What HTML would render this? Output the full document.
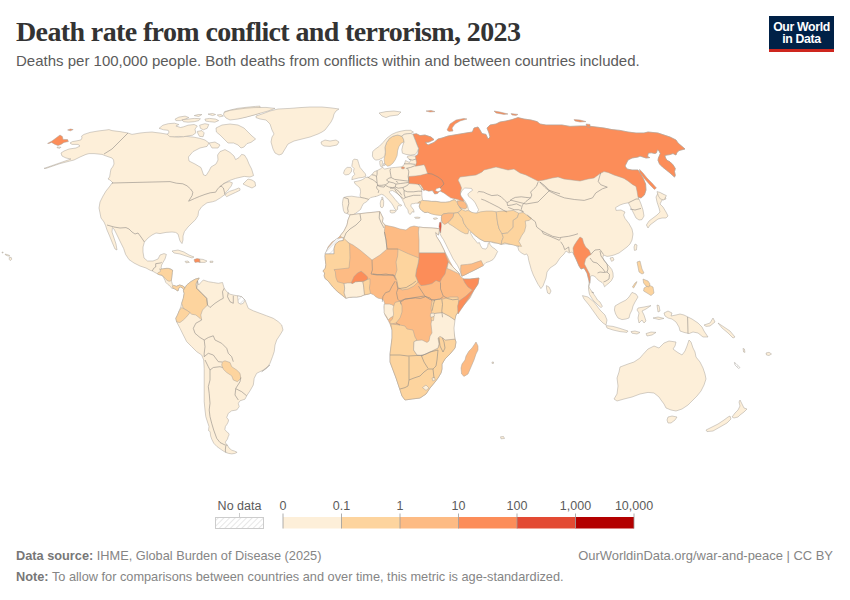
<!DOCTYPE html>
<html><head><meta charset="utf-8">
<style>
html,body{margin:0;padding:0;background:#fff;}
body{width:850px;height:600px;position:relative;overflow:hidden;font-family:"Liberation Sans",Arial,sans-serif;}
.t{position:absolute;white-space:nowrap;}
#title{left:16px;top:15.5px;font-family:"Liberation Serif",serif;font-weight:bold;font-size:28px;color:#333;letter-spacing:-0.62px;}
#sub{left:16px;top:51.8px;font-size:15px;color:#5b5b5b;}
#logo{position:absolute;left:769px;top:16px;width:65px;height:33px;background:#002147;border-bottom:3px solid #ce261e;}
#logo div{position:absolute;width:65px;text-align:center;color:#fff;font-weight:bold;font-size:12.3px;line-height:12px;letter-spacing:-0.35px;}
#map{position:absolute;left:0;top:0;}
#map polygon{stroke:#a8a29a;stroke-width:0.5;stroke-linejoin:round;}
#map polyline{fill:none;stroke:#8f8a84;stroke-width:0.6;stroke-linejoin:round;}
.lg{position:absolute;font-size:12.5px;color:#5b5b5b;}
.foot{position:absolute;left:16px;font-size:12.75px;color:#858585;}
.foot b{color:#777;}
</style></head><body>
<div class="t" id="title">Death rate from conflict and terrorism, 2023</div>
<div class="t" id="sub">Deaths per 100,000 people. Both deaths from conflicts within and between countries included.</div>
<div id="logo"><div style="top:5px">Our World</div><div style="top:16.5px">in Data</div></div>
<svg id="map" width="850" height="600" viewBox="0 0 850 600">
<defs><pattern id="hatch" width="4" height="4" patternUnits="userSpaceOnUse" patternTransform="rotate(45)"><rect width="4" height="4" fill="#fff"/><line x1="0" y1="0" x2="0" y2="4" stroke="#d8d8d8" stroke-width="1.2"/></pattern></defs>
<polygon points="412.9,134.2 416.5,133.8 420.0,135.6 425.0,135.0 431.0,137.0 434.0,139.6 429.0,142.0 425.0,142.4 428.0,145.0 434.0,142.4 438.0,139.0 442.0,138.0 448.0,136.0 454.0,135.0 460.0,134.0 466.0,133.0 472.4,132.0 474.0,128.0 478.0,127.0 480.0,130.0 482.0,133.6 486.0,134.4 488.0,139.0 490.0,137.0 489.0,133.0 487.0,128.0 490.0,125.0 496.0,124.0 500.0,122.0 506.0,121.0 512.0,119.6 518.0,117.6 524.0,119.0 531.0,120.0 537.0,121.6 540.0,124.0 546.0,125.0 554.0,125.0 562.0,125.0 570.0,126.4 580.0,126.0 588.0,126.0 596.0,127.0 604.0,128.0 612.0,129.6 620.0,130.4 628.0,132.0 636.0,133.0 644.0,133.0 648.0,132.0 658.0,133.0 664.0,135.0 670.0,137.0 676.0,140.0 678.0,143.0 685.0,149.0 679.0,150.5 676.8,152.8 676.0,155.0 673.0,153.5 670.0,154.6 667.0,155.0 664.8,155.4 665.5,158.0 667.0,160.3 670.0,161.8 673.0,164.8 675.3,168.5 674.5,171.5 675.3,175.3 674.5,177.1 670.0,173.0 666.3,170.0 662.5,167.0 659.5,164.0 658.0,160.3 658.4,158.0 660.3,153.5 658.8,150.5 657.3,149.8 656.5,152.8 655.0,153.5 651.3,152.8 648.3,153.1 647.5,156.5 649.8,157.6 646.0,158.0 640.0,156.1 638.0,157.0 632.0,158.0 628.0,160.0 625.0,166.0 627.0,169.0 632.0,170.0 638.0,170.0 640.0,173.0 643.0,178.0 645.6,184.0 646.0,190.0 644.4,195.0 641.0,198.0 638.0,197.0 639.0,199.0 641.0,204.0 643.0,210.0 644.0,216.0 642.0,219.6 639.0,220.0 636.0,218.0 634.0,214.0 632.0,210.0 630.0,206.0 628.4,202.8 624.0,203.6 620.0,205.0 615.6,207.6 616.0,210.4 621.0,210.0 625.0,212.0 623.6,215.0 625.0,218.4 629.0,223.6 632.0,229.0 633.0,234.0 632.0,240.0 630.0,244.0 627.0,247.0 623.0,250.0 619.0,253.0 614.0,255.0 610.0,256.0 607.0,256.4 603.5,255.0 602.8,257.5 604.0,260.5 606.5,263.5 609.5,266.5 611.8,269.5 613.0,273.0 613.2,277.0 611.5,280.5 609.0,283.0 606.5,285.0 604.5,286.8 603.5,284.0 602.0,282.5 599.5,281.0 597.5,279.5 596.0,277.5 594.0,276.0 592.0,275.5 590.5,276.5 590.0,279.0 590.0,282.0 589.5,284.0 589.0,286.5 590.0,289.0 592.0,291.5 594.0,294.5 596.0,297.5 597.5,300.0 600.0,302.0 602.4,306.4 601.0,307.6 598.0,305.0 595.0,302.0 593.0,300.0 591.0,297.0 589.5,294.5 589.0,292.0 588.5,289.0 588.5,286.0 589.0,283.2 588.8,280.0 587.0,273.0 584.0,268.0 581.0,269.0 579.0,266.0 576.0,259.0 573.6,254.0 572.0,252.0 569.0,253.0 566.0,251.0 564.0,254.0 560.0,258.0 556.0,264.0 550.0,268.0 547.0,272.0 546.0,278.0 543.0,286.0 540.9,288.6 538.0,284.3 535.3,279.0 533.3,275.0 531.3,269.7 530.0,265.0 528.7,260.3 528.0,256.3 526.7,253.9 524.7,254.7 521.3,253.0 518.7,250.3 518.0,247.7 519.3,245.0 517.6,247.0 515.3,245.0 512.9,244.4 509.4,244.4 505.9,243.8 501.2,244.4 497.6,243.2 494.1,243.0 490.6,241.8 488.2,241.7 484.7,241.6 480.0,239.2 475.3,235.7 470.8,231.5 470.4,232.9 472.9,237.4 475.3,240.3 477.6,243.2 479.4,242.6 480.6,245.8 482.4,248.5 485.9,249.1 487.6,246.8 488.2,243.2 489.4,242.3 490.0,244.4 491.8,246.8 495.3,249.1 497.6,251.5 496.5,253.8 494.7,257.4 492.9,259.7 489.4,261.5 485.9,262.6 482.9,265.6 478.8,267.9 474.1,270.3 469.4,272.6 464.7,275.0 461.8,276.2 460.6,272.6 459.4,269.1 457.6,265.6 455.3,262.1 452.9,258.5 450.6,253.8 448.2,249.1 445.9,244.4 443.5,239.7 441.2,236.2 440.0,233.8 439.9,229.6 440.9,223.9 441.4,219.2 442.0,215.5 439.9,213.8 436.2,212.6 433.4,213.6 430.5,213.1 427.7,212.2 424.9,212.6 422.1,210.8 420.2,208.9 419.2,206.1 420.2,203.2 419.7,202.1 418.8,202.3 417.4,203.2 415.5,203.2 413.6,203.7 411.9,203.7 411.2,204.2 410.8,206.1 412.2,207.9 413.6,209.8 414.1,212.2 412.2,211.7 411.2,213.6 409.8,214.5 408.4,212.6 407.9,209.8 406.5,207.9 405.1,206.1 404.2,203.2 403.2,201.4 402.3,199.5 400.4,196.6 397.6,193.8 394.8,191.9 392.4,190.5 390.1,191.0 389.1,191.9 390.5,193.8 392.9,196.6 395.2,199.5 397.6,202.3 399.5,204.2 401.8,205.3 400.4,206.1 398.5,205.3 397.6,207.0 397.6,209.4 396.2,210.3 394.8,208.9 393.4,206.1 391.5,203.2 389.1,200.4 386.3,197.6 383.9,195.2 381.6,194.3 379.2,195.2 376.9,196.2 375.0,196.6 375.3,196.5 370.6,197.6 368.8,199.4 366.5,201.8 363.5,203.5 361.8,206.5 360.6,209.4 357.6,211.8 355.3,213.5 351.8,215.3 349.4,214.7 347.1,213.5 344.7,212.9 343.5,210.6 342.9,207.1 342.4,203.5 342.9,200.0 343.5,197.6 347.1,196.5 351.8,196.2 357.6,197.1 360.6,197.4 360.0,195.3 360.6,191.8 360.0,188.2 357.6,185.9 355.3,184.1 354.1,181.8 357.1,181.2 360.0,180.6 362.9,179.4 365.3,177.6 368.8,177.1 371.8,174.7 374.1,171.8 377.1,170.6 380.6,168.8 382.4,167.1 381.8,166.8 384.7,169.1 389.4,168.0 395.3,167.4 401.2,166.8 403.5,165.6 404.8,163.0 405.5,160.5 407.6,161.5 409.5,162.5 410.6,160.2 409.0,158.5 407.2,157.5 407.5,156.2 411.0,155.6 415.3,156.0 418.0,154.5 418.6,148.5 417.0,145.0 415.3,140.3 413.9,136.8" fill="#fdefd9"/>
<polygon points="421.8,189.4 423.9,188.9 426.3,189.1 428.6,189.6 431.5,190.1 433.4,191.9 434.3,193.4 437.1,192.9 439.0,191.0 440.9,190.5 442.8,191.9 446.5,193.8 450.3,195.2 453.1,197.1 455.0,198.5 452.2,200.4 449.4,201.8 445.6,202.3 440.9,202.3 436.2,201.4 431.5,201.4 427.7,200.9 423.9,200.9 422.5,199.9 421.8,195.7" fill="#ffffff"/>
<polygon points="464.8,188.0 471.5,188.4 472.6,190.3 469.3,192.5 467.8,194.0 468.5,196.3 473.0,200.0 475.3,203.0 477.5,207.5 478.6,209.8 476.8,213.1 473.8,213.5 470.8,212.0 468.5,209.8 467.4,205.3 464.8,200.8 461.0,196.3 460.3,194.0 461.8,191.0 463.3,189.1" fill="#ffffff"/>
<polygon points="70.0,143.0 72.4,141.6 77.0,140.8 80.8,140.0 82.0,138.0 81.6,136.0 84.0,134.4 90.0,132.4 98.0,131.0 106.0,130.0 109.0,129.6 112.0,130.6 120.0,131.6 128.0,133.0 132.0,134.4 140.0,133.0 146.0,132.4 152.0,132.0 156.0,132.6 160.0,133.0 166.0,134.0 170.0,134.4 170.0,136.4 178.0,137.2 186.0,136.4 194.0,137.2 200.0,138.4 205.0,140.0 209.0,143.0 207.0,146.4 200.0,148.0 193.0,151.6 188.4,157.0 189.0,161.0 195.0,164.0 201.0,167.6 203.6,175.0 206.0,175.6 209.0,171.0 211.0,167.0 216.0,164.0 218.0,160.0 217.6,155.0 220.0,151.6 225.0,149.6 230.0,152.4 234.0,156.0 235.6,159.6 239.0,157.6 241.6,154.4 244.4,155.0 247.0,159.0 249.0,164.0 251.6,169.0 253.6,175.6 250.0,177.0 244.2,176.4 235.6,178.4 229.2,180.6 225.0,182.8 221.8,185.4 219.8,187.0 223.0,183.8 229.2,181.6 232.4,182.8 231.4,185.8 229.2,188.6 227.2,191.2 225.0,193.2 225.0,194.4 220.8,197.6 215.6,200.8 212.4,201.8 207.0,202.8 201.8,206.6 198.6,211.2 198.0,215.6 195.4,219.8 192.0,223.0 188.0,227.0 184.4,231.6 183.0,236.0 183.0,240.0 182.0,243.6 180.0,241.0 179.0,237.6 178.0,234.0 175.6,232.4 172.0,232.0 166.0,232.4 160.0,233.6 156.0,233.0 152.0,235.0 148.0,238.0 144.4,242.0 143.0,247.0 143.0,252.0 144.0,258.0 147.6,261.0 153.0,261.0 158.0,259.0 160.0,255.0 164.0,253.6 166.4,254.4 165.0,259.0 163.0,262.4 161.6,265.0 161.0,268.3 162.3,269.0 166.3,268.3 170.3,268.7 172.7,270.2 172.3,272.3 172.0,275.0 171.7,277.7 171.3,280.7 171.7,281.7 172.3,284.3 173.7,285.7 176.3,286.3 179.7,285.0 182.3,285.7 184.3,287.0 185.7,288.3 185.0,290.0 183.7,289.7 182.3,287.7 180.3,287.0 178.7,288.3 178.0,291.0 176.7,290.3 175.0,289.0 173.0,288.3 171.7,288.3 170.3,286.3 167.7,284.3 165.7,282.3 165.0,280.3 163.7,277.7 162.3,275.7 160.3,275.0 157.7,274.0 152.3,271.0 150.4,270.4 146.0,268.0 140.0,266.0 134.0,263.0 129.0,259.6 125.6,254.4 123.6,248.4 120.4,242.0 117.0,235.0 114.0,229.0 112.4,227.6 112.0,232.0 114.0,238.0 116.0,244.0 117.0,250.0 115.0,249.0 112.0,242.0 109.6,236.0 107.0,230.0 105.6,225.6 104.0,222.0 101.0,218.0 100.0,213.0 99.0,208.0 100.0,202.0 103.0,196.0 106.0,191.0 110.0,186.0 112.0,183.0 113.0,183.0 110.0,180.0 108.0,179.0 109.6,177.0 110.4,172.0 111.0,169.0 112.6,167.0 114.0,164.0 113.6,160.0 112.0,158.0 109.0,157.0 105.0,155.6 102.0,154.4 98.0,154.0 94.0,153.6 89.0,153.6 86.0,154.4 80.0,157.0 74.0,160.0 70.0,161.0 60.0,163.6 46.0,168.4 44.0,168.4 71.0,159.0 66.0,158.0 62.0,156.0 61.0,153.0 64.0,151.0 69.0,149.0 76.0,148.0 80.0,146.0 78.0,144.4 72.0,144.4 70.0,143.0" fill="#fdefd9"/>
<polygon points="216.0,128.0 222.0,125.0 230.0,124.0 238.0,125.0 244.0,128.0 248.0,132.0 252.0,136.0 255.6,139.0 251.0,142.4 247.0,143.6 244.0,147.0 241.0,148.0 238.0,145.0 233.6,143.0 228.0,143.0 224.0,139.0 220.0,135.0 216.4,132.0" fill="#fdefd9"/>
<polygon points="224.8,111.5 230.9,109.9 237.1,108.4 246.2,107.3 255.4,106.4 260.0,106.1 260.0,113.0 255.4,114.5 249.3,116.1 243.2,117.6 237.1,118.4 230.9,116.8 226.4,115.3 224.1,113.5" fill="#fdefd9"/>
<polygon points="224.0,112.4 230.0,110.4 238.0,109.2 246.0,108.2 254.0,107.6 266.0,107.4 275.0,108.4 268.0,111.0 261.0,113.0 254.0,115.0 246.0,117.2 238.0,119.0 230.0,120.0 226.0,118.0 223.6,115.0" fill="#fdefd9"/>
<polygon points="159.1,128.3 162.9,125.2 168.2,123.7 174.4,123.2 178.9,124.5 175.9,126.0 180.5,127.5 183.5,126.8 188.1,125.2 194.2,124.5 197.3,126.0 195.0,129.1 195.8,132.9 192.7,135.2 188.1,135.9 183.5,136.7 178.9,136.4 174.4,136.7 169.8,136.7 167.5,134.4 169.0,132.1 168.2,130.3 163.6,129.8" fill="#fdefd9"/>
<polygon points="175.1,119.1 178.9,117.1 185.1,116.1 188.9,117.6 185.1,119.1 180.5,120.6 175.9,120.6" fill="#fdefd9"/>
<polygon points="182.0,119.9 188.1,119.1 194.2,118.4 200.4,118.7 198.8,120.6 194.2,121.7 188.1,122.2 183.5,121.7" fill="#fdefd9"/>
<polygon points="194.2,115.6 198.1,114.5 201.9,114.5 198.8,116.5" fill="#fdefd9"/>
<polygon points="199.6,125.2 204.9,123.7 208.8,124.5 207.2,128.3 203.4,129.8 200.4,128.3" fill="#fdefd9"/>
<polygon points="204.9,119.1 209.5,118.4 215.6,119.1 218.7,120.6 214.9,122.2 209.5,121.7 205.7,121.1" fill="#fdefd9"/>
<polygon points="208.0,114.1 212.6,113.5 215.6,114.5 212.6,115.6" fill="#fdefd9"/>
<polygon points="217.2,115.0 221.0,114.5 223.3,116.1 219.5,116.8" fill="#fdefd9"/>
<polygon points="197.3,131.4 201.9,130.6 204.2,132.9 203.1,136.7 199.6,136.4 198.1,134.0" fill="#fdefd9"/>
<polygon points="209.0,143.0 215.0,142.0 220.0,145.0 218.0,148.0 212.0,148.0" fill="#fdefd9"/>
<polygon points="256.0,116.0 262.0,114.0 270.0,111.0 278.0,109.0 290.0,108.4 300.0,107.6 310.0,107.0 322.0,107.0 332.0,108.0 339.0,109.0 336.0,111.0 334.0,114.0 333.0,118.0 331.0,122.0 328.0,126.0 325.0,130.0 322.0,132.0 318.0,134.0 310.0,137.0 302.0,139.0 294.0,141.0 288.0,144.0 285.0,149.0 282.0,154.0 279.0,155.0 275.0,153.0 273.0,149.0 271.0,142.0 272.0,137.0 274.0,134.0 272.0,130.0 270.0,124.0 266.0,120.0 260.0,119.0 256.0,117.6" fill="#fdefd9"/>
<polygon points="321.0,142.0 325.0,140.0 330.0,141.0 336.0,140.0 339.0,142.0 337.0,145.0 330.0,146.4 324.0,146.0 321.6,144.4" fill="#fdefd9"/>
<polygon points="243.0,184.0 248.0,179.0 252.0,180.0 255.0,182.0 255.6,186.0 252.0,188.0 247.0,186.0" fill="#fdefd9"/>
<polygon points="172.0,251.0 178.0,250.0 184.0,252.0 189.0,255.0 194.0,257.0 192.0,258.0 186.0,256.0 180.0,254.0 174.0,253.0" fill="#fdefd9"/>
<polygon points="199.4,259.0 203.0,259.4 207.0,261.0 205.0,262.4 200.0,262.4" fill="#fdefd9"/>
<polygon points="194.0,259.6 197.0,258.6 199.6,259.0 200.0,262.4 198.0,262.0 195.0,262.4 194.4,261.0" fill="#fc8d59"/>
<polygon points="185.0,261.4 188.0,261.0 189.4,262.4 186.0,262.8" fill="#fdefd9"/>
<polygon points="210.0,261.2 213.0,261.2 212.8,262.4 210.0,262.4" fill="#fdefd9"/>
<polygon points="157.3,273.7 158.3,272.5 160.3,271.7 160.3,269.3 163.7,268.7 168.3,268.3 172.3,270.0 172.7,271.0 172.3,272.3 172.0,275.0 171.7,277.7 171.3,280.7 169.0,281.3 167.0,280.3 165.7,279.0 164.3,277.7 163.0,276.0 161.3,275.0 159.0,274.7" fill="#fdd49e"/>
<polygon points="172.3,285.7 173.7,285.3 176.3,286.3 179.7,285.0 182.3,285.7 184.3,287.0 185.3,288.7 185.0,290.0 183.7,289.7 182.3,287.7 180.3,287.0 178.7,288.3 178.0,291.0 176.7,290.3 175.0,289.0 173.0,288.3" fill="#fdd49e"/>
<polygon points="9.2,257.6 11.2,257.4 11.8,259.2 10.2,260.6 9.3,259.5" fill="#fdefd9"/>
<polygon points="5.2,254.0 7.2,254.6 9.5,255.4 9.8,256.2 7.5,255.8 5.5,255.0" fill="#fdefd9"/>
<polygon points="2.0,252.0 3.2,252.2 3.0,253.0 2.0,252.8" fill="#fdefd9"/>
<polygon points="225.3,195.4 226.1,193.5 229.3,191.4 234.6,189.7 238.8,188.0 240.1,188.8 239.9,190.3 235.6,192.4 230.9,194.6 226.6,196.7" fill="#fdefd9"/>
<polygon points="412.9,134.2 416.5,133.8 420.0,135.6 425.0,135.0 431.0,137.0 434.0,139.6 429.0,142.0 425.0,142.4 428.0,145.0 434.0,142.4 438.0,139.0 442.0,138.0 448.0,136.0 454.0,135.0 460.0,134.0 466.0,133.0 472.4,132.0 474.0,128.0 478.0,127.0 480.0,130.0 482.0,133.6 486.0,134.4 488.0,139.0 490.0,137.0 489.0,133.0 487.0,128.0 490.0,125.0 496.0,124.0 500.0,122.0 506.0,121.0 512.0,119.6 518.0,117.6 524.0,119.0 531.0,120.0 537.0,121.6 540.0,124.0 546.0,125.0 554.0,125.0 562.0,125.0 570.0,126.4 580.0,126.0 588.0,126.0 596.0,127.0 604.0,128.0 612.0,129.6 620.0,130.4 628.0,132.0 636.0,133.0 644.0,133.0 648.0,132.0 658.0,133.0 664.0,135.0 670.0,137.0 676.0,140.0 678.0,143.0 685.0,149.0 679.0,150.5 676.8,152.8 676.0,155.0 673.0,153.5 670.0,154.6 667.0,155.0 664.8,155.4 665.5,158.0 667.0,160.3 670.0,161.8 673.0,164.8 675.3,168.5 674.5,171.5 675.3,175.3 674.5,177.1 670.0,173.0 666.3,170.0 662.5,167.0 659.5,164.0 658.0,160.3 658.4,158.0 660.3,153.5 658.8,150.5 657.3,149.8 656.5,152.8 655.0,153.5 651.3,152.8 648.3,153.1 647.5,156.5 649.8,157.6 646.0,158.0 640.0,156.1 638.0,157.0 632.0,158.0 628.0,160.0 625.0,166.0 627.0,169.0 632.0,170.0 638.0,170.0 640.0,173.0 643.0,178.0 645.6,184.0 646.0,190.0 644.4,195.0 641.0,198.0 638.0,197.0 637.0,191.0 636.0,186.4 632.4,184.4 628.0,181.0 624.0,178.4 620.0,177.0 614.0,175.0 608.0,172.4 604.0,171.6 600.0,173.6 594.0,178.0 588.0,179.0 580.0,181.0 572.0,180.0 564.0,179.0 558.0,177.0 552.0,178.0 544.0,180.0 538.0,181.0 532.0,178.0 526.0,175.0 520.0,173.0 514.0,169.0 508.0,170.0 500.0,168.0 496.0,167.0 492.0,168.0 484.0,170.0 482.0,172.0 476.0,175.0 468.0,176.0 460.0,177.0 458.0,180.0 460.0,184.0 461.5,188.0 460.5,192.0 460.3,194.5 461.2,196.5 463.0,199.0 464.0,201.5 461.0,200.8 457.3,199.3 453.5,198.5 450.5,197.8 449.0,196.6 448.0,196.0 444.0,193.0 440.0,191.0 439.4,191.2 437.6,193.5 434.7,194.1 433.5,191.8 432.4,190.6 428.8,191.2 425.3,190.0 423.5,190.6 423.0,188.2 420.6,184.7 415.9,184.1 408.8,183.5 408.8,176.5 415.9,175.9 420.6,175.3 425.3,174.1 427.6,173.5 426.5,170.6 425.3,167.0 424.1,164.7 415.3,166.2 416.5,162.6 415.9,159.1 415.3,156.2 418.0,154.5 418.6,148.5 417.0,145.0 415.3,140.3 413.9,136.8" fill="#fc8d59"/>
<polygon points="47.6,143.4 52.0,141.0 56.0,138.0 60.0,135.0 62.4,136.6 63.0,139.4 67.6,139.6 68.4,141.6 64.0,142.4 61.0,144.4 58.0,145.6 55.0,144.4 51.6,142.4 49.0,143.4" fill="#fc8d59"/>
<polygon points="67.6,130.0 70.4,129.0 73.2,129.6 70.4,130.8" fill="#fc8d59"/>
<polygon points="57.0,147.0 61.0,147.2 60.0,148.2 57.4,148.0" fill="#fdefd9"/>
<polygon points="184.3,289.0 186.7,285.0 190.8,281.7 195.0,279.2 199.2,278.0 197.5,280.8 198.7,285.0 200.8,282.5 203.3,280.0 208.3,281.7 213.3,282.5 218.3,283.3 222.5,282.5 224.2,288.3 226.7,291.7 230.0,294.2 233.3,295.0 237.5,295.8 241.7,296.7 245.0,300.0 246.7,304.2 248.3,308.3 253.3,310.8 260.0,313.3 266.7,315.8 273.3,318.3 278.3,321.7 281.7,325.0 283.0,330.0 280.0,335.0 276.7,340.0 275.0,345.0 274.2,351.7 272.5,356.7 270.0,363.3 266.7,368.3 261.7,371.7 270.0,365.0 263.3,370.0 256.7,373.3 254.2,378.3 253.3,385.0 250.0,390.8 246.7,395.8 245.0,399.2 240.0,400.8 238.3,403.3 239.2,406.7 236.7,410.0 231.7,410.8 228.3,413.3 226.7,417.5 228.6,420.0 228.1,422.1 227.0,424.2 225.4,426.4 224.9,429.5 226.5,431.6 228.6,433.2 229.1,434.8 228.1,436.9 227.5,439.1 225.9,441.2 225.4,442.8 227.5,445.4 229.1,448.1 231.8,450.2 234.9,451.2 237.1,452.3 234.9,453.4 231.8,453.9 228.6,453.4 225.4,452.3 221.2,449.6 216.9,446.5 213.8,443.3 211.7,439.1 210.6,435.9 210.1,431.6 208.5,430.6 209.0,426.4 207.9,423.2 205.8,416.7 205.0,410.0 204.2,401.7 204.2,393.3 204.2,385.0 204.2,376.7 204.2,368.3 203.7,360.0 201.7,355.0 196.7,351.7 191.7,346.7 186.7,341.7 183.3,335.0 180.0,328.3 176.7,322.0 175.8,318.3 177.5,315.0 179.2,310.8 180.8,306.7 181.7,303.3 183.3,298.3 184.2,293.3 183.3,290.8" fill="#fdefd9"/>
<polygon points="184.3,289.0 186.7,285.0 190.8,281.7 195.0,279.2 199.2,278.0 197.5,280.8 195.8,284.2 196.7,288.3 201.7,293.3 206.7,298.3 207.5,305.0 205.0,307.5 202.5,310.0 200.8,315.0 201.7,320.0 200.0,318.3 195.8,315.0 191.7,314.2 187.5,310.8 183.3,308.3 181.7,303.3 183.3,298.3 184.2,293.3 183.3,290.8" fill="#fdd49e"/>
<polygon points="181.7,307.5 187.5,310.8 190.0,312.5 186.7,316.7 183.3,320.0 180.0,322.5 176.7,322.0 175.8,318.3 177.5,315.0 179.2,310.8" fill="#fdd49e"/>
<polygon points="222.5,361.7 225.0,360.8 230.0,362.5 231.7,366.7 236.7,370.0 240.0,373.3 240.8,378.3 237.5,381.7 233.3,380.0 231.7,375.8 226.7,372.5 223.3,369.2 221.7,365.0" fill="#fdd49e"/>
<polygon points="237.5,295.8 241.7,296.7 245.0,300.0 243.3,303.3 240.8,304.2 238.3,303.0" fill="url(#hatch)"/>
<polygon points="350.0,215.0 357.0,214.0 366.0,213.0 376.0,212.0 380.0,211.6 381.0,214.0 383.0,218.0 382.4,222.0 385.0,225.0 389.0,226.0 394.0,227.0 400.0,229.0 406.0,230.0 410.0,227.0 414.0,226.0 419.0,227.0 424.0,227.6 432.0,228.0 437.0,228.4 439.6,229.0 438.4,235.0 435.6,232.4 436.4,236.4 440.0,242.0 444.0,250.0 447.0,256.0 450.0,262.0 453.0,267.0 458.0,272.0 461.0,277.0 464.0,279.0 470.0,279.0 479.0,278.0 478.0,284.0 474.0,290.0 470.0,298.0 464.0,305.0 459.0,311.0 456.0,315.0 453.6,322.0 453.0,328.0 454.0,334.0 455.0,339.0 456.0,342.0 455.0,348.0 450.0,354.0 445.0,359.0 442.0,364.0 442.0,369.0 441.0,373.0 438.0,378.0 435.0,382.0 430.0,388.0 426.0,394.0 420.0,398.0 412.0,399.0 405.0,400.0 402.0,396.0 400.0,390.0 398.0,384.0 396.0,378.0 393.0,370.0 390.0,362.0 390.0,354.0 391.0,346.0 392.0,338.0 392.0,330.0 390.0,324.0 388.0,320.0 385.0,315.0 384.1,307.1 384.7,303.5 383.5,300.0 381.2,298.8 378.2,298.2 375.3,296.5 373.5,294.7 370.6,293.5 367.1,294.4 363.5,295.3 360.6,296.5 356.5,297.1 352.9,297.1 349.4,297.4 345.9,298.2 342.9,295.9 340.0,293.5 337.6,291.8 335.3,289.4 332.9,287.1 330.6,284.1 328.8,281.8 327.1,280.0 325.3,278.8 324.1,275.9 324.7,272.9 322.9,271.2 325.3,268.2 325.9,264.7 325.3,260.0 325.0,256.0 326.0,253.0 328.0,247.0 332.0,242.0 337.0,239.0 340.0,236.0 344.0,231.0 347.0,225.0 348.0,220.0" fill="#fdbb84"/>
<polygon points="350.0,215.0 357.0,214.0 366.0,213.0 376.0,212.0 380.0,211.6 381.0,214.0 383.0,218.0 382.4,222.0 385.0,225.0 384.4,232.0 386.0,240.0 387.0,249.0 380.0,255.0 372.0,260.0 366.0,255.0 360.0,250.0 353.0,245.0 349.0,243.0 344.0,239.6 343.6,238.4 340.0,236.0 344.0,231.0 347.0,225.0 348.0,220.0" fill="#fdefd9"/>
<polygon points="324.9,253.9 327.8,248.2 332.7,242.6 336.9,238.4 343.3,237.6 343.3,240.5 339.0,241.2 335.5,244.0 334.1,248.2 334.1,253.9" fill="url(#hatch)"/>
<polygon points="419.0,227.0 424.0,227.6 432.0,228.0 437.0,228.4 439.6,229.0 438.4,235.0 435.6,232.4 436.4,236.4 440.0,242.0 444.0,250.0 445.0,253.0 432.0,253.0 419.0,253.0 419.0,240.0 418.4,232.0" fill="#fdefd9"/>
<polygon points="419.0,253.0 445.0,253.0 446.4,257.0 448.4,262.0 446.4,268.0 445.0,274.0 442.0,278.0 440.0,282.0 436.0,280.4 432.0,283.6 426.0,285.0 421.0,285.6 418.0,282.0 415.6,276.0 416.4,270.0 418.0,264.0 419.0,258.0" fill="#fc8d59"/>
<polygon points="448.4,262.0 453.0,267.0 458.0,272.0 460.0,274.4 456.0,272.4 451.0,270.0 447.0,268.4" fill="#fdefd9"/>
<polygon points="398.0,249.0 408.0,253.6 419.0,258.0 418.0,264.0 416.4,270.0 415.6,276.0 418.0,282.0 414.0,286.0 408.0,289.0 402.0,290.0 398.0,287.0 397.0,281.0 395.0,276.0 397.0,270.0 396.0,262.0 397.6,256.0" fill="#fdd49e"/>
<polygon points="325.0,254.0 334.1,253.9 334.1,248.2 335.5,244.0 339.0,241.2 343.3,240.5 343.3,237.6 349.6,244.0 350.0,258.0 349.0,268.0 340.0,269.0 334.0,269.6 335.3,271.8 335.9,277.6 337.6,281.8 344.1,283.5 344.7,288.2 344.1,292.9 345.9,298.2 342.9,295.9 340.0,293.5 337.6,291.8 335.3,289.4 332.9,287.1 330.6,284.1 328.8,281.8 327.1,280.0 325.3,278.8 324.1,275.9 324.7,272.9 322.9,271.2 325.3,268.2 325.9,264.7 325.3,260.0 325.0,256.0" fill="#fdd49e"/>
<polygon points="344.1,283.5 347.6,282.9 351.2,282.9 352.4,283.5 355.3,281.8 360.0,281.4 362.9,281.8 363.8,287.1 364.5,294.7 360.6,296.5 356.5,297.1 352.9,297.1 349.4,297.4 345.9,298.2 344.1,292.9 344.7,288.2" fill="#fdefd9"/>
<polygon points="351.2,282.9 354.1,276.5 357.6,272.9 361.2,271.2 364.7,274.1 367.6,277.1 367.6,279.4 364.1,281.2 360.0,281.4 355.3,281.8 352.4,283.5" fill="#fc8d59"/>
<polygon points="362.9,281.8 364.1,281.2 367.6,279.4 370.0,278.8 370.0,283.5 369.4,288.2 370.6,293.5 367.1,294.4 364.5,294.7 363.8,287.1" fill="#fdd49e"/>
<polygon points="384.1,304.1 389.4,304.1 391.8,304.7 395.3,307.1 395.3,315.3 390.6,317.6 388.2,320.0 387.1,317.6 384.1,312.9 384.1,307.1" fill="#fdefd9"/>
<polygon points="395.0,302.4 400.0,301.0 402.0,306.0 402.0,312.0 400.0,318.0 396.0,323.0 391.0,324.0 389.6,322.0 392.4,319.0 393.6,314.0 393.0,309.0 394.0,305.0" fill="#fdd49e"/>
<polygon points="391.0,324.0 400.0,325.0 405.0,326.0 407.0,329.0 413.0,330.0 415.0,337.0 417.0,340.4 414.0,341.6 413.6,350.0 417.0,355.0 421.0,355.6 426.0,354.0 430.0,352.0 434.0,350.0 438.0,348.0 439.0,344.0 438.0,338.0 440.0,336.4 443.0,338.0 445.0,340.0 450.0,339.6 455.0,339.0 456.0,342.0 455.0,348.0 450.0,354.0 445.0,359.0 442.0,364.0 442.0,369.0 441.0,373.0 438.0,378.0 435.0,382.0 430.0,388.0 426.0,394.0 420.0,398.0 412.0,399.0 405.0,400.0 402.0,396.0 400.0,390.0 398.0,384.0 396.0,378.0 393.0,370.0 390.0,362.0 390.0,354.0 391.0,346.0 392.0,338.0 392.0,330.0 391.0,325.0" fill="#fdd49e"/>
<polygon points="431.0,314.0 437.0,313.0 442.4,312.6 449.0,316.0 455.0,320.0 454.0,328.0 454.4,334.0 455.0,339.0 450.0,339.6 445.0,340.0 443.0,338.0 440.0,336.4 438.0,338.0 439.0,344.0 438.0,348.0 434.0,350.0 430.0,352.0 426.0,354.0 421.0,355.6 417.0,355.0 413.6,350.0 414.0,341.6 417.0,340.4 422.0,340.0 427.0,342.4 429.0,341.0 430.0,336.0 432.0,333.0 431.0,324.0 432.0,318.0" fill="#fdefd9"/>
<polygon points="432.0,301.0 438.0,299.0 443.0,299.0 450.0,297.0 458.0,297.0 459.0,304.0 458.4,310.0 459.0,311.0 456.0,315.0 455.0,320.0 449.0,316.0 442.4,312.6 437.0,313.0 432.0,314.0 431.0,308.0" fill="#fdd49e"/>
<polygon points="463.0,279.0 470.0,279.0 479.0,278.0 478.0,284.0 474.0,290.0 470.0,296.0 466.0,302.0 462.0,308.0 458.0,314.0 457.6,306.0 459.0,301.0 466.0,296.0 472.4,290.0 468.0,287.0 465.0,283.0" fill="#fc8d59"/>
<polygon points="476.0,342.0 478.0,346.0 478.0,350.0 476.0,354.0 474.0,360.0 471.0,367.0 468.0,374.0 464.0,376.4 461.6,374.0 461.0,368.0 462.0,364.0 465.0,360.0 466.0,356.0 469.0,351.0 472.0,348.0 474.0,345.0" fill="#fdbb84"/>
<polygon points="422.4,387.6 426.0,385.0 429.0,388.0 426.0,390.4" fill="#fdefd9"/>
<polygon points="432.0,378.0 434.4,377.4 435.2,380.0 432.8,381.0" fill="#fdefd9"/>
<polygon points="430.5,313.5 434.0,313.0 434.5,316.0 432.0,317.5 430.3,316.5" fill="#fdefd9"/>
<polygon points="431.0,317.5 434.0,316.5 433.5,320.5 431.5,320.8" fill="#fdd49e"/>
<polygon points="387.6,166.2 384.7,163.8 384.1,159.7 384.7,156.2 385.3,152.1 384.9,147.4 386.5,142.6 389.4,138.5 392.9,136.2 397.6,135.0 401.8,136.2 403.5,139.1 404.1,142.1 401.2,143.2 398.8,146.8 397.6,150.9 397.1,155.6 395.3,159.7 392.9,163.2 390.0,165.6" fill="#fdd49e"/>
<polygon points="374.1,159.1 372.4,156.2 372.7,151.5 375.3,149.1 379.4,146.2 382.9,142.6 387.1,137.9 391.8,134.4 396.5,132.3 401.2,131.1 405.9,130.3 410.6,130.3 413.5,132.1 410.6,133.5 407.1,133.8 404.1,134.4 401.8,136.2 397.6,135.0 392.9,136.2 389.4,138.5 386.5,142.6 384.9,147.4 385.3,152.1 384.7,156.2 382.4,157.9 378.8,159.7 375.9,160.1" fill="#fdefd9"/>
<polygon points="404.1,142.1 403.5,139.1 401.8,136.2 404.1,134.4 407.1,133.8 410.6,133.5 412.9,134.2 413.9,136.8 415.3,140.3 417.1,145.0 418.6,148.5 417.1,152.1 415.3,154.4 410.6,155.1 405.9,154.4 402.4,153.2 401.8,149.7 402.9,145.0" fill="#fdefd9"/>
<polygon points="379.8,160.9 381.8,160.1 382.6,162.1 382.1,164.4 382.6,166.2 380.6,166.4 379.8,163.8" fill="#fdefd9"/>
<polygon points="383.1,163.8 384.7,163.6 385.2,165.2 383.5,165.7" fill="#fdefd9"/>
<polygon points="354.1,159.1 357.6,159.7 358.8,163.8 360.0,167.4 362.9,170.9 365.3,173.8 365.9,176.2 362.9,177.4 358.8,177.9 354.1,179.1 351.8,179.7 352.4,176.8 354.7,174.4 353.5,171.5 354.1,168.5 351.8,166.2 352.4,162.6 352.9,160.3" fill="#fdefd9"/>
<polygon points="344.7,169.7 347.1,167.4 350.6,167.4 351.8,169.1 351.2,172.1 348.8,174.4 345.3,175.0 343.5,173.2" fill="#fdefd9"/>
<polygon points="401.2,167.6 402.9,166.8 404.7,167.4 404.1,168.8 401.8,168.8" fill="#fc8d59"/>
<polygon points="419.7,201.8 422.1,200.4 427.7,200.9 431.5,201.4 436.2,201.4 440.9,202.3 445.6,202.3 449.4,201.8 452.2,200.4 455.0,199.9 457.8,203.4 458.8,206.2 460.2,208.3 461.6,209.7 459.5,211.1 458.1,212.5 453.9,213.2 448.2,213.2 443.3,213.9 441.9,215.4 439.8,215.4 435.5,214.9 431.3,213.9 427.7,212.2 424.9,212.6 422.1,210.8 420.2,208.9 419.2,206.1 420.2,203.2" fill="#fdd49e"/>
<polygon points="418.5,202.1 420.0,201.6 420.6,202.5 419.2,203.2 417.8,203.2" fill="#fdd49e"/>
<polygon points="441.9,215.4 443.3,213.9 448.2,213.2 453.9,213.2 453.2,216.8 451.1,219.6 448.2,222.4 444.7,224.5 442.6,223.1 441.5,220.3 441.2,217.5" fill="#fdbb84"/>
<polygon points="453.9,213.2 458.1,212.5 459.5,214.6 462.4,218.2 463.8,223.1 466.6,227.4 468.7,230.2 468.0,233.7 465.2,233.7 460.9,231.6 456.7,228.8 452.5,225.9 448.9,223.8 448.2,222.4 451.1,219.6 453.2,216.8" fill="#fdd49e"/>
<polygon points="459.5,204.8 460.2,208.3 462.4,209.7 465.2,211.1 468.0,210.4 472.2,212.5 476.5,213.2 480.7,211.8 486.4,211.1 492.0,211.1 496.2,211.8 496.9,217.5 497.6,223.1 499.1,228.8 501.9,233.0 503.3,237.2 501.9,240.8 501.2,244.3 496.2,242.9 491.3,241.8 488.2,241.5 484.7,241.5 480.0,239.1 475.3,235.6 470.8,231.5 468.7,229.5 466.6,227.4 463.8,223.1 462.4,218.2 459.5,214.6 458.1,212.5 461.6,209.7" fill="#fdd49e"/>
<polygon points="496.2,211.8 501.9,211.1 507.5,211.1 513.2,210.4 518.8,213.2 517.4,217.5 513.2,220.3 513.2,227.4 507.5,233.0 501.9,233.7 499.1,228.8 497.6,223.1 496.9,217.5" fill="#fdd49e"/>
<polygon points="501.9,233.7 507.5,233.0 513.2,227.4 513.2,220.3 517.4,217.5 518.8,213.2 523.1,212.5 527.3,215.4 531.5,218.2 529.4,220.3 525.2,221.0 525.9,225.9 524.5,231.6 521.6,235.8 518.8,241.5 521.6,246.4 516.0,245.7 510.4,244.3 504.7,242.9 501.2,244.3 501.9,240.8 503.3,237.2" fill="#fdd49e"/>
<polygon points="457.0,201.0 461.0,200.8 464.0,201.5 466.0,204.0 467.0,207.5 465.0,209.0 461.0,208.0 458.0,205.0" fill="#fdbb84"/>
<polygon points="439.5,222.5 441.0,222.3 441.3,226.0 440.9,230.0 440.6,233.0 439.8,231.0 439.0,226.5" fill="#e34a33"/>
<polygon points="460.9,265.0 467.1,264.4 471.8,263.8 476.5,262.1 481.2,260.6 483.5,265.6 478.8,267.9 474.1,270.3 469.4,272.6 464.7,275.0 461.8,276.2 460.9,272.6 460.6,269.1" fill="#fdbb84"/>
<polygon points="573.0,248.0 574.4,245.0 577.0,241.0 580.0,237.0 582.4,238.4 583.6,243.0 585.6,247.0 589.0,250.0 591.0,254.4 588.4,256.0 585.6,259.0 584.4,264.0 587.0,269.0 589.6,274.0 590.2,279.0 589.8,283.2 588.8,280.0 587.0,273.0 584.0,268.0 581.0,269.0 579.0,266.0 576.0,259.0 573.6,254.0" fill="#fc8d59"/>
<polygon points="546.4,285.6 549.0,287.0 551.0,291.0 549.6,294.0 547.6,293.0 546.6,289.0" fill="#fdefd9"/>
<polygon points="610.0,258.0 613.0,257.4 614.0,260.0 611.6,261.4" fill="#fdefd9"/>
<polygon points="635.0,244.0 637.0,245.0 636.4,250.0 634.4,250.4 634.0,247.0" fill="#fdefd9"/>
<polygon points="658.0,193.0 662.0,194.0 665.0,196.0 666.0,199.0 662.0,200.0 660.0,204.0 663.0,207.0 666.0,212.0 668.0,216.0 666.0,218.0 662.0,218.0 658.0,219.0 654.0,222.0 650.0,225.0 648.0,228.0 646.4,225.0 649.0,221.0 653.0,218.0 657.0,215.0 660.0,212.0 659.0,208.0 657.0,202.0 656.0,197.0" fill="#fdefd9"/>
<polygon points="657.0,191.6 660.0,192.4 663.0,194.0 666.4,195.6 664.0,200.0 660.4,199.0 658.4,196.0" fill="#fdefd9"/>
<polygon points="639.6,169.4 643.0,173.0 647.0,178.0 652.0,183.0 656.4,188.0 654.4,189.4 650.0,185.0 645.6,180.0 641.6,175.0 639.6,172.0" fill="#fc8d59"/>
<polygon points="379.0,113.0 386.0,111.6 394.0,111.0 401.0,112.0 398.0,115.0 390.0,116.0 386.0,117.6 382.0,116.0" fill="#fdefd9"/>
<polygon points="447.0,130.0 450.0,124.0 456.0,120.0 464.0,118.4 467.0,119.0 460.0,121.0 455.0,124.0 452.0,128.0 453.0,131.0 449.0,131.4" fill="#fc8d59"/>
<polygon points="426.0,111.0 431.0,110.4 435.0,111.6 430.0,112.0" fill="#fc8d59"/>
<polygon points="494.0,111.0 500.0,112.0 508.0,114.0 504.0,114.4 496.0,113.0" fill="#fc8d59"/>
<polygon points="511.0,113.6 518.0,114.4 516.0,115.4 512.0,115.0" fill="#fc8d59"/>
<polygon points="574.0,119.6 580.0,120.0 586.0,121.6 580.0,122.0 575.0,121.0" fill="#fc8d59"/>
<polygon points="586.0,124.0 590.0,124.4 590.0,128.0 587.0,127.0" fill="#fc8d59"/>
<polygon points="390.1,210.3 393.8,210.3 396.2,210.8 394.8,212.6 391.9,213.1 390.1,212.2" fill="#fdefd9"/>
<polygon points="381.1,199.7 383.0,199.2 383.7,201.4 383.5,206.1 382.1,207.9 380.6,207.0 380.2,203.2" fill="#fdefd9"/>
<polygon points="381.6,197.4 382.7,197.2 383.1,199.1 382.1,199.5" fill="#fdefd9"/>
<polygon points="414.5,217.4 417.4,217.1 420.2,217.5 419.2,218.3 415.5,218.3" fill="#fdefd9"/>
<polygon points="433.4,218.3 436.2,217.8 437.6,218.5 435.2,219.4 433.8,219.2" fill="#fdefd9"/>
<polygon points="582.4,295.6 588.0,297.0 594.0,302.0 600.0,310.0 605.0,315.0 607.0,320.0 606.0,325.0 603.0,323.0 599.0,319.0 594.0,312.0 589.0,305.0 584.0,299.0" fill="#fdefd9"/>
<polygon points="606.0,325.6 613.0,326.4 620.0,328.4 628.0,331.0 627.0,332.4 620.0,331.6 613.0,330.0 607.0,328.0" fill="#fdefd9"/>
<polygon points="631.0,331.6 635.0,331.0 640.0,332.4 637.0,334.0 632.0,333.2" fill="#fdefd9"/>
<polygon points="646.0,333.6 651.0,332.0 656.0,332.4 652.0,335.0 647.0,336.0" fill="#fdefd9"/>
<polygon points="615.0,306.0 620.0,303.0 626.0,300.0 629.0,297.0 632.0,292.4 636.0,294.0 638.0,297.0 635.0,302.0 633.0,306.0 632.0,310.0 630.0,314.0 629.0,318.0 626.0,319.0 622.0,319.6 618.0,318.0 615.6,314.0 614.4,310.0" fill="#fdefd9"/>
<polygon points="638.0,308.0 644.0,307.0 651.0,305.6 646.0,309.0 642.0,311.0 644.0,315.0 646.0,321.0 644.0,323.0 642.0,320.0 639.0,323.0 638.0,318.0 639.0,313.0 637.0,310.0" fill="#fdefd9"/>
<polygon points="657.0,305.0 659.0,305.6 660.0,311.0 658.0,312.0" fill="#fdefd9"/>
<polygon points="653.0,318.0 658.0,317.0 664.0,318.4 659.0,319.6" fill="#fdefd9"/>
<polygon points="664.0,313.0 668.0,311.0 672.0,313.0 671.0,316.0 676.0,315.0 680.0,314.0 684.0,315.0 688.0,317.0 692.0,319.0 698.0,323.0 702.0,327.0 704.0,331.0 708.0,337.0 703.0,337.0 698.0,333.0 693.0,332.0 689.0,333.6 684.0,332.4 680.0,331.0 679.0,327.0 676.0,322.0 672.0,319.0 668.0,318.0 665.0,316.0" fill="#fdefd9"/>
<polygon points="704.0,325.0 710.0,323.0 713.0,318.0 715.0,322.0 710.0,326.0 706.0,326.4" fill="#fdefd9"/>
<polygon points="718.0,323.0 724.0,327.0 730.0,331.0 735.0,337.0 733.0,338.0 728.0,333.0 722.0,328.0" fill="#fdefd9"/>
<polygon points="644.0,288.0 649.0,285.0 653.0,287.0 654.0,293.0 651.0,295.6 647.0,293.0 643.6,291.0" fill="#fdd49e"/>
<polygon points="637.0,262.0 640.0,261.0 641.0,265.0 642.0,269.0 644.0,273.0 642.0,274.0 639.0,272.0 638.0,267.0" fill="#fdd49e"/>
<polygon points="643.0,279.0 648.0,281.0 650.0,284.0 649.0,287.0 646.0,286.0 643.6,283.0" fill="#fdd49e"/>
<polygon points="632.4,287.0 635.0,283.0 637.0,281.6 636.0,284.0 633.6,288.0" fill="#fdd49e"/>
<polygon points="620.0,367.0 628.0,364.0 634.0,362.0 640.0,358.0 643.0,354.4 648.0,349.0 654.0,346.0 659.0,348.0 664.0,343.0 669.0,341.0 676.0,342.0 675.0,346.0 673.0,349.0 677.0,352.0 682.0,355.0 685.0,351.0 687.0,346.0 689.0,340.0 691.0,342.0 693.0,348.0 695.0,352.0 696.0,357.0 700.0,362.0 703.0,368.0 705.0,374.0 706.0,379.0 704.0,385.0 701.0,391.0 697.0,396.0 692.0,401.0 688.0,405.0 682.0,409.0 676.0,411.0 671.0,410.0 666.0,408.0 664.0,404.0 661.0,400.0 659.0,397.0 654.0,393.0 648.0,392.4 640.0,394.0 632.0,397.0 624.0,399.0 617.0,401.0 614.0,399.0 617.0,394.0 618.0,386.0 617.0,378.0 619.0,372.0" fill="#fdefd9"/>
<polygon points="668.0,417.0 672.0,416.0 677.0,417.0 675.0,420.0 671.0,423.0 668.0,423.0 667.0,420.0" fill="#fdefd9"/>
<polygon points="740.0,400.0 742.0,404.0 744.0,408.0 747.0,409.0 744.0,412.0 740.0,415.0 738.0,417.0 734.0,418.0 732.0,417.0 735.0,413.0 738.0,410.0 740.0,406.0 739.0,402.0" fill="#fdefd9"/>
<polygon points="730.0,416.0 728.0,417.0 724.0,420.0 718.0,424.0 712.0,427.0 706.0,430.0 707.0,431.6 713.0,431.0 720.0,427.0 727.0,423.0 731.0,419.0" fill="#fdefd9"/>
<polygon points="734.4,362.4 736.0,363.6 740.0,367.6 738.4,368.4 735.0,365.0" fill="url(#hatch)"/>
<polygon points="743.0,348.4 744.4,349.0 745.0,352.4 743.6,352.0" fill="#fdefd9"/>
<polygon points="766.0,353.0 769.0,352.3 771.5,354.0 769.0,355.5 766.5,355.0" fill="#fdefd9"/>
<polygon points="500.5,436.8 503.5,436.5 504.5,438.5 501.0,438.8" fill="#fdefd9"/>
<polygon points="492.0,362.0 493.5,362.0 493.5,363.4 492.0,363.4" fill="#fdefd9"/>
<polygon points="435.2,190.5 436.6,188.6 439.5,187.7 441.4,188.9 440.4,190.8 437.9,191.8" fill="#ffffff"/>
<polyline points="112.0,183.0 170.0,181.6 176.4,183.2 182.8,183.8 187.0,185.8 190.6,189.0 192.8,192.2 192.2,195.4 188.6,201.2 194.4,198.6 199.6,196.4 205.0,194.4 210.2,192.8 215.6,192.2 217.6,189.0 220.8,185.8 223.4,188.0 224.6,192.8 225.0,194.4"/>
<polyline points="128.0,133.0 120.0,141.0 112.0,149.0 104.0,154.0"/>
<polyline points="107.0,225.0 114.0,227.0 120.0,228.0 126.0,227.6 129.0,229.0 132.0,232.0 135.0,234.0 138.0,233.0 141.0,237.0 144.4,242.0"/>
<polyline points="152.3,271.0 153.7,268.3 155.7,267.0 155.7,263.7 160.3,263.0 161.7,262.3"/>
<polyline points="159.3,269.0 160.3,269.3"/>
<polyline points="197.5,280.8 196.7,288.3 201.7,293.3 206.7,298.3 207.5,305.0 210.0,307.5 215.0,303.3 220.0,300.0 223.3,298.3 222.5,291.7 224.2,288.3"/>
<polyline points="228.3,292.5 227.5,296.7 230.0,301.7 233.3,303.3 233.3,295.8"/>
<polyline points="201.7,320.0 195.8,323.3 193.3,328.3 195.0,333.3 200.0,337.5 204.2,340.0 208.3,337.5 213.3,335.8 215.0,340.0 221.7,343.3 226.7,348.3 228.3,353.3 231.7,356.7 233.3,361.7"/>
<polyline points="204.2,340.0 205.0,346.7 204.2,353.3 204.2,356.7"/>
<polyline points="205.0,360.0 208.3,366.7 210.0,370.0 210.0,380.0 208.3,386.7 209.2,393.3 210.0,403.3 209.2,410.0 210.0,416.7 211.7,423.3 213.7,430.0 216.7,438.3 220.0,442.5 225.0,445.0 227.5,445.3"/>
<polyline points="225.8,445.8 225.3,450.0 225.8,452.5"/>
<polyline points="210.0,370.0 213.3,367.5 220.0,366.7 222.5,367.5"/>
<polyline points="240.8,377.5 240.0,381.7 235.8,388.3 235.0,395.0 238.3,400.0"/>
<polyline points="235.8,388.7 241.7,391.7 246.7,395.8"/>
<polyline points="204.2,356.7 208.3,353.3 213.3,355.0 218.3,361.7 222.0,362.0"/>
<polyline points="384.4,232.0 386.0,240.0 387.0,249.0 398.0,249.0"/>
<polyline points="372.0,260.0 372.4,270.0 371.0,274.0 377.0,275.0 386.0,274.0 395.0,276.0"/>
<polyline points="400.0,301.0 405.0,299.0 412.0,298.0 418.0,297.0 424.0,296.0 430.0,298.0 432.0,301.0"/>
<polyline points="396.0,323.0 400.0,325.0"/>
<polyline points="390.0,355.0 400.0,355.0 408.0,356.0 422.4,355.2"/>
<polyline points="409.0,356.4 409.0,370.0 409.0,380.0 408.0,386.0 405.0,387.6 400.0,389.0"/>
<polyline points="409.0,380.0 414.0,378.0 420.0,376.0 424.0,372.0 428.0,369.0 433.0,369.0"/>
<polyline points="421.6,356.0 424.0,362.0 428.0,368.4"/>
<polyline points="438.0,350.0 437.0,360.0 436.0,366.0 433.0,369.0 434.0,378.0"/>
<polyline points="421.0,356.0 430.0,352.0 438.0,350.0"/>
<polyline points="439.0,338.0 440.0,346.0 443.0,352.0 445.0,348.0 444.0,342.0 442.4,338.0"/>
<polyline points="372.6,273.9 377.8,274.6 382.9,275.2 388.1,275.2 393.3,274.6 395.9,279.8"/>
<polyline points="395.2,281.1 392.0,286.2 389.4,291.4 385.5,292.7 382.9,296.6 382.3,301.8"/>
<polyline points="396.5,281.7 397.8,288.8 396.5,292.7 397.8,299.2 400.4,301.8 401.1,304.4"/>
<polyline points="397.8,288.8 406.2,287.5 412.7,283.6 415.9,281.1"/>
<polyline points="418.5,286.2 421.8,291.4 424.4,295.3 425.6,296.6 429.5,299.2 434.7,299.8 439.9,299.2 443.1,296.6"/>
<polyline points="425.6,296.6 420.5,298.5 415.3,297.9 410.1,298.5 404.9,299.2 401.1,301.8"/>
<polyline points="440.5,282.4 440.5,288.8 443.1,295.9 447.6,298.5 452.8,299.8 458.0,299.2"/>
<polyline points="434.7,299.8 433.4,304.4 432.1,310.8"/>
<polyline points="441.8,299.2 442.5,304.4 441.8,310.8 442.5,317.3"/>
<polyline points="360.0,214.0 361.0,220.0 356.0,225.0 350.0,229.0 346.0,233.0 344.0,238.0"/>
<polyline points="379.6,212.0 379.2,218.0 381.0,222.4 384.0,228.0"/>
<polyline points="628.4,202.8 632.0,201.0 636.0,199.0 639.0,199.0"/>
<polyline points="630.0,209.0 635.0,210.0 641.0,208.4"/>
<polyline points="687.6,317.0 688.0,333.6"/>
<polyline points="368.8,199.4 364.7,198.2 360.6,197.4"/>
<polyline points="344.1,197.6 348.2,198.8 348.8,203.5 347.6,208.2 348.2,211.8 347.1,213.5"/>
<polyline points="367.6,177.1 370.6,178.8 373.5,180.0 375.3,181.8 377.1,182.9 377.6,185.3 376.5,187.1 377.1,188.8 378.8,190.6 378.2,192.9"/>
<polyline points="371.8,174.7 374.7,175.3 376.5,176.5"/>
<polyline points="377.1,170.6 377.1,174.1 376.5,176.5 377.1,182.9"/>
<polyline points="377.1,185.3 381.8,185.3 385.3,184.7 387.6,183.5 388.8,181.8 386.5,180.0 388.8,178.2 391.2,177.6 390.6,174.1 390.0,170.6 390.6,168.8"/>
<polyline points="377.6,185.3 379.4,186.5 384.1,187.1 385.3,185.3"/>
<polyline points="385.3,185.3 388.8,187.1 392.4,187.6 395.3,187.1"/>
<polyline points="388.8,181.8 393.5,182.9 395.9,184.1 395.3,187.1 398.2,188.2 402.9,187.6 407.6,185.3 408.8,183.5"/>
<polyline points="391.2,177.6 394.7,179.4 399.4,180.0 404.1,180.6 408.8,181.2"/>
<polyline points="408.8,181.2 408.2,176.5 408.8,171.8 407.6,168.2"/>
<polyline points="395.9,181.2 398.2,182.6"/>
<polyline points="395.9,184.1 400.6,183.5 405.3,182.9 408.8,182.4"/>
<polyline points="418.2,184.1 420.6,187.1 422.4,190.0"/>
<polyline points="402.9,187.6 404.1,190.6 407.6,191.8 413.5,191.8 418.2,191.2 422.0,191.2"/>
<polyline points="390.0,188.2 394.7,188.2 399.4,191.8 401.8,195.3"/>
<polyline points="394.7,189.4 397.1,192.9 400.6,196.5 403.5,198.8"/>
<polyline points="404.1,190.6 404.1,194.1 405.3,197.6 408.8,196.5 413.5,195.3 418.2,195.3 420.6,195.3"/>
<polyline points="403.5,198.8 405.3,197.6"/>
<polyline points="404.1,163.8 410.6,163.8 415.3,164.4"/>
<polyline points="408.8,159.4 412.4,160.1 415.9,159.1"/>
<polyline points="405.9,168.5 410.6,167.4 415.3,165.6"/>
<polyline points="427.6,173.5 432.0,174.0 438.0,177.0 442.0,180.0 444.0,184.0 440.0,188.0"/>
<polyline points="477.6,192.6 478.8,191.5 483.5,192.1 487.1,193.8 491.8,195.6 497.6,195.0 501.2,196.8 504.7,200.3 507.1,202.6 509.4,201.5 511.8,199.1 515.3,197.4 521.2,196.8 525.9,197.4 530.6,197.9 531.8,195.0 530.6,192.1 534.1,188.5 536.5,186.2 538.2,181.7"/>
<polyline points="481.2,199.1 484.7,200.3 489.4,202.6 494.1,205.0 498.8,207.4 503.5,210.3 507.1,212.1"/>
<polyline points="507.1,202.6 507.6,205.6 511.8,205.0 516.5,203.8 521.2,206.2"/>
<polyline points="508.2,207.4 514.1,209.7 518.8,209.7 523.5,212.1"/>
<polyline points="530.6,197.9 525.9,201.5 522.4,205.0 521.2,209.7 523.5,212.1"/>
<polyline points="540.0,182.1 544.7,185.6 549.4,190.3 554.1,192.1 560.0,193.8"/>
<polyline points="510.0,200.0 518.0,202.0 526.0,204.0 538.0,202.0 550.0,190.0"/>
<polyline points="539.4,181.7 544.7,187.2 549.6,191.3 557.9,195.4 564.5,197.9 574.4,199.5 584.2,200.4 592.5,197.9 595.8,192.9 602.4,188.8 607.3,187.2 600.7,184.7 598.2,181.4 600.7,172.8"/>
<polyline points="591.0,254.4 592.0,253.0 595.0,250.0 600.0,249.5 603.5,254.5"/>
<polyline points="590.0,258.0 593.0,262.0 597.0,263.0 600.0,266.0 603.0,269.0 605.0,272.0"/>
<polyline points="600.0,251.0 601.0,256.0 604.0,260.0 607.0,264.0 608.0,269.0 607.0,272.0"/>
<polyline points="597.5,273.0 600.0,272.0 604.0,272.5 607.0,272.0 609.5,274.5 609.0,279.0 606.0,281.0 603.5,282.0"/>
<polyline points="591.5,292.0 594.0,293.0"/>
<polyline points="527.3,215.0 530.0,217.7 535.3,221.7 536.7,227.0 542.0,231.0 547.3,233.7 552.7,236.3 559.3,237.7 563.3,237.0 568.7,236.3 574.0,235.0 578.0,233.7"/>
<polyline points="542.0,231.0 543.3,233.7 550.0,236.3 559.3,240.3 560.7,238.3"/>
<polyline points="560.7,241.7 563.3,245.7 564.7,249.7 568.7,247.0 569.3,252.3"/>
<g id="legend">
<rect x="215.5" y="517.5" width="48" height="11" fill="url(#hatch)" stroke="#ccc" stroke-width="1"/>
<line x1="239.5" y1="513" x2="239.5" y2="517" stroke="#ccc" stroke-width="1"/>
<rect x="283" y="517" width="58.5" height="11.5" fill="#fdefd9"/>
<rect x="341.5" y="517" width="58.5" height="11.5" fill="#fdd49e"/>
<rect x="400" y="517" width="58.5" height="11.5" fill="#fdbb84"/>
<rect x="458.5" y="517" width="58.5" height="11.5" fill="#fc8d59"/>
<rect x="517" y="517" width="58.5" height="11.5" fill="#e34a33"/>
<rect x="575.5" y="517" width="58.5" height="11.5" fill="#b30000"/>
<g stroke="#999" stroke-width="0.8">
<line x1="283" y1="513.5" x2="283" y2="528.5"/><line x1="341.5" y1="513.5" x2="341.5" y2="528.5"/><line x1="400" y1="513.5" x2="400" y2="528.5"/><line x1="458.5" y1="513.5" x2="458.5" y2="528.5"/><line x1="517" y1="513.5" x2="517" y2="528.5"/><line x1="575.5" y1="513.5" x2="575.5" y2="528.5"/><line x1="634" y1="513.5" x2="634" y2="528.5"/>
</g>
<g font-family="Liberation Sans, Arial, sans-serif" font-size="12.5" fill="#5b5b5b" text-anchor="middle">
<text x="239.5" y="510">No data</text>
<text x="283" y="510">0</text>
<text x="341.5" y="510">0.1</text>
<text x="400" y="510">1</text>
<text x="458.5" y="510">10</text>
<text x="517" y="510">100</text>
<text x="575.5" y="510">1,000</text>
<text x="634" y="510">10,000</text>
</g>
</g>
</svg>
<div class="foot" style="top:548px"><b>Data source:</b> IHME, Global Burden of Disease (2025)</div>
<div class="foot" style="top:569px"><b>Note:</b> To allow for comparisons between countries and over time, this metric is age-standardized.</div>
<div class="foot" style="top:548px;left:auto;right:17px;font-size:12.95px;">OurWorldinData.org/war-and-peace | CC BY</div>
</body></html>
